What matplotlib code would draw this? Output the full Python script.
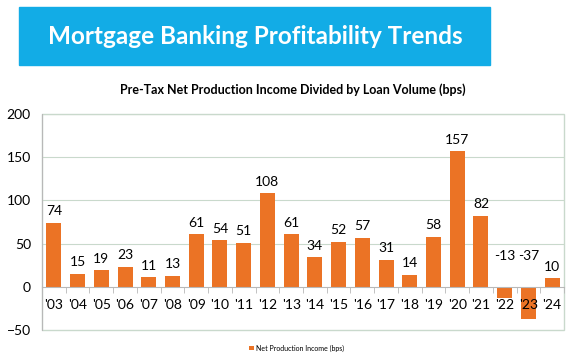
import numpy as np
import matplotlib.pyplot as plt
from matplotlib.patches import Rectangle

years = ["'03", "'04", "'05", "'06", "'07", "'08", "'09", "'10", "'11", "'12", "'13",
         "'14", "'15", "'16", "'17", "'18", "'19", "'20", "'21", "'22", "'23", "'24"]
income = [74, 15, 19, 23, 11, 13, 61, 54, 51, 108, 61, 34, 52, 57, 31, 14, 58, 157, 82, -13, -37, 10]
y_ticks = [-50, 0, 50, 100, 150, 200]

bar_color = '#EB7325'
banner_color = '#12ACE6'
line_color = '#C9D9CC'

plt.rcParams['font.family'] = ['Lato', 'DejaVu Sans']

fig = plt.figure(figsize=(5.88, 3.6), dpi=100)

# title banner
fig.patches.append(Rectangle((19 / 588, 1 - 65 / 360), 471 / 588, 58 / 360,
                             transform=fig.transFigure, color=banner_color, zorder=0))
fig.text(255 / 588, 1 - 37 / 360, 'Mortgage Banking Profitability Trends', color='white',
         fontsize=17.5, fontweight='bold', ha='center', va='center')
fig.text(293 / 588, 1 - 90 / 360, 'Pre-Tax Net Production Income Divided by Loan Volume (bps)',
         fontsize=9, fontweight='bold', ha='center', va='center')

ax = fig.add_axes([42 / 588, 30 / 360, 522 / 588, 216 / 360])
x = np.arange(len(years))
bars = ax.bar(x, income, width=0.63, color=bar_color, zorder=1, label='Net Production Income (bps)')

ax.set_xlim(-0.5, len(years) - 0.5)
ax.set_ylim(-50, 200)
ax.set_yticks(y_ticks)
ax.tick_params(axis='y', length=0, labelsize=10, pad=8)
for t in y_ticks[2:]:
  ax.axhline(t, color=line_color, linewidth=0.8, zorder=0)

# x axis sits on zero with tick marks between categories
ax.spines['bottom'].set_position(('data', 0))
ax.spines['bottom'].set_color('#B8B8B8')
ax.set_xticks(x)
ax.set_xticklabels(years)
ax.set_xticks(np.arange(len(years) + 1) - 0.5, minor=True)
ax.tick_params(axis='x', which='major', length=0, labelsize=10, pad=9)
ax.tick_params(axis='x', which='minor', length=4, color='#B8B8B8', direction='out')
for s in ['top', 'right']:
  ax.spines[s].set_visible(False)
ax.spines['left'].set_color('#B8B8B8')
ax.add_patch(Rectangle((0, 0), 1, 1, transform=ax.transAxes, fill=False,
                       edgecolor=line_color, linewidth=1, clip_on=False, zorder=0))

for xi, v in zip(x, income):
  if v >= 0:
    ax.annotate(str(v), (xi, v), xytext=(0, 4), textcoords='offset points',
                ha='center', va='bottom', fontsize=10)
  else:
    ax.annotate(str(v), (xi, 0), xytext=(0, 18), textcoords='offset points',
                ha='center', va='bottom', fontsize=10)

fig.legend(handles=[bars], loc='center', bbox_to_anchor=(297 / 588, 1 - 348 / 360),
           frameon=False, fontsize=5, handlelength=0.7, handleheight=0.7, handletextpad=0.3)

fig.savefig('out.png', dpi=100)
